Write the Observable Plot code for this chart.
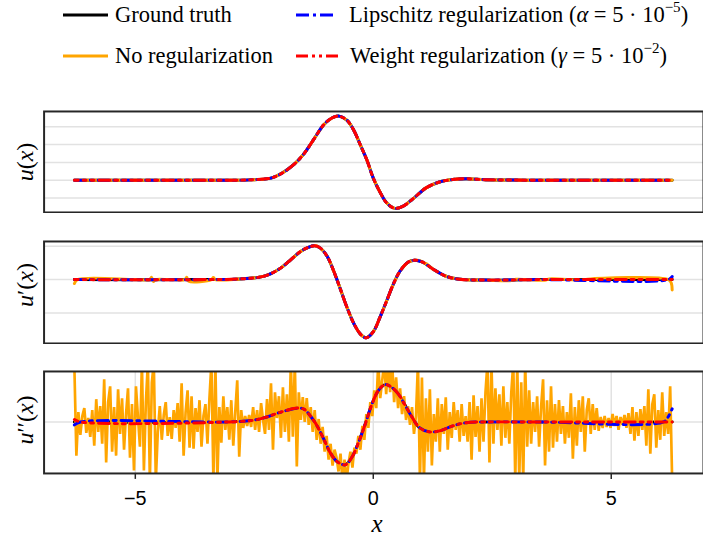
<!DOCTYPE html>
<html><head><meta charset="utf-8">
<script src="https://cdn.jsdelivr.net/npm/d3@7"></script>
<script src="https://cdn.jsdelivr.net/npm/@observablehq/plot@0.6"></script>
<style>
html,body{margin:0;padding:0;background:#fff;overflow:hidden}
#root{position:relative;width:703px;height:541px;overflow:hidden;background:#fff}
.panel{position:absolute;left:0}
.legtxt{position:absolute;font-family:"Liberation Serif",serif;font-size:22.5px;line-height:24px;color:#000;white-space:nowrap}
.sw{position:absolute}
.ylab{position:absolute;font-family:"Liberation Serif",serif;font-size:24px;line-height:24px;white-space:nowrap;transform:translate(-50%,-50%) rotate(-90deg)}
.xlab{position:absolute;font-family:"Liberation Serif",serif;font-size:25px;line-height:24px;transform:translate(-50%,-50%)}
</style></head><body><div id="root"></div>
<script>
// ---------- data ----------
const seriesNames = ["Ground truth","No regularization","Lipschitz regularization","Weight regularization"];
const seriesColors = ["#000000","#ffa500","#0000ff","#ff0000"];
const xTicks = [-5, 0, 5];

// u(x)
const uX     = [-6.28,-3.5,-2.6,-2.15,-1.94,-1.66,-1.45,-1.24,-1.04,-0.86,-0.72,-0.55,-0.41,-0.27,-0.135,0.0,0.14,0.28,0.45,0.63,0.84,1.11,1.39,1.67,1.95,2.36,3.5,6.28];
const uTruth = [0,0,0.02,0.12,0.36,0.9,1.51,2.34,3.12,3.51,3.6,3.36,2.81,1.97,1.14,0.12,-0.66,-1.27,-1.58,-1.45,-1.03,-0.43,-0.1,0.04,0.08,0.03,0,0];
const uNoReg = [0,0,0.02,0.12,0.36,0.9,1.51,2.34,3.12,3.51,3.6,3.36,2.81,1.97,1.14,0.12,-0.66,-1.27,-1.58,-1.45,-1.03,-0.43,-0.1,0.04,0.08,0.03,0,0];
const uLip   = [0,0,0.02,0.12,0.36,0.9,1.51,2.34,3.12,3.51,3.6,3.36,2.81,1.97,1.14,0.12,-0.66,-1.27,-1.58,-1.45,-1.03,-0.43,-0.1,0.04,0.08,0.03,0,0];
const uWeight= [0,0,0.02,0.12,0.36,0.9,1.51,2.34,3.12,3.51,3.6,3.36,2.81,1.97,1.14,0.12,-0.66,-1.27,-1.58,-1.45,-1.03,-0.43,-0.1,0.04,0.08,0.03,0,0];
const uGrid  = [-1,0,1,2,3];

// u'(x)
const dX      = [-6.28,-3.5,-2.8,-2.36,-2.15,-1.94,-1.73,-1.52,-1.35,-1.23,-1.11,-0.97,-0.83,-0.69,-0.55,-0.41,-0.27,-0.15,0.0,0.14,0.28,0.42,0.56,0.73,0.87,1.04,1.25,1.53,1.81,2.36,3.5,6.2,6.28];
const dTruth  = [0,0,0.02,0.08,0.18,0.35,0.6,0.85,0.97,1.01,0.94,0.70,0.25,-0.29,-0.84,-1.31,-1.63,-1.74,-1.56,-1.13,-0.64,-0.14,0.25,0.52,0.58,0.52,0.32,0.1,0.01,-0.015,0,0,0];
const dLip    = [0,0,0.02,0.08,0.18,0.35,0.6,0.85,0.97,1.01,0.94,0.70,0.25,-0.29,-0.84,-1.31,-1.63,-1.74,-1.56,-1.13,-0.64,-0.14,0.25,0.52,0.58,0.52,0.32,0.1,0.01,-0.015,0,0,0.09];
const dWeight = [0,0,0.02,0.08,0.18,0.35,0.6,0.85,0.97,1.01,0.94,0.70,0.25,-0.29,-0.84,-1.31,-1.63,-1.74,-1.56,-1.13,-0.64,-0.14,0.25,0.52,0.58,0.52,0.32,0.1,0.01,-0.015,0,0,0];
const dNoRegX = [-6.28,-6.22,-5.0,-4.7,-4.66,-4.62,-4.58,-3.96,-3.92,-3.88,-3.4,-3.36,-3.32,-2.8,-2.36,-2.15,-1.94,-1.73,-1.52,-1.35,-1.23,-1.11,-0.97,-0.83,-0.69,-0.55,-0.41,-0.27,-0.15,0.0,0.14,0.28,0.42,0.56,0.73,0.87,0.97,1.04,1.12,1.25,1.53,1.81,2.36,2.9,3.0,3.6,3.7,4.4,4.5,6.2,6.26,6.28];
const dNoReg  = [-0.12,0,0,0.0,0.07,-0.06,0,0,0.07,-0.05,0,0.06,0,0.02,0.08,0.18,0.35,0.6,0.85,0.97,1.02,0.94,0.70,0.25,-0.29,-0.84,-1.31,-1.63,-1.74,-1.56,-1.13,-0.64,-0.14,0.25,0.52,0.58,0.57,0.52,0.47,0.32,0.1,0.01,-0.015,-0.03,0.01,-0.02,0.02,-0.02,0.01,0,-0.1,-0.31];
const dGrid   = [-1,0,1];

// u''(x)
const ddX      = [-6.28,-6.15,-3.05,-2.49,-2.22,-1.94,-1.59,-1.45,-1.31,-1.18,-1.04,-0.9,-0.76,-0.59,-0.45,-0.31,-0.17,-0.03,0.11,0.25,0.38,0.52,0.66,0.8,0.97,1.18,1.39,1.67,1.95,2.36,3.5,6.1,6.2,6.28];
const ddTruth  = [0,0,0,0.2,0.53,1.0,1.4,1.27,0.53,-0.4,-1.73,-3.13,-4.0,-4.33,-3.57,-2.07,-0.23,1.77,3.2,3.77,3.53,2.87,1.77,0.6,-0.57,-1.0,-0.9,-0.4,-0.07,0,0,0,0,0];
const ddLip    = [-0.3,0,0,0.2,0.53,1.0,1.4,1.27,0.53,-0.4,-1.73,-3.13,-4.0,-4.33,-3.57,-2.07,-0.23,1.77,3.2,3.77,3.53,2.87,1.77,0.6,-0.57,-1.0,-0.9,-0.4,-0.07,0,0,0,0.55,1.33];
const ddWeight = [0.25,0,0,0.2,0.53,1.0,1.4,1.27,0.53,-0.4,-1.73,-3.13,-4.0,-4.33,-3.57,-2.07,-0.23,1.77,3.2,3.77,3.53,2.87,1.77,0.6,-0.57,-1.0,-0.9,-0.4,-0.07,0,0,0,0,0];
// no regularization: noisy second derivative, read on a regular grid from -2π to 2π
const ddNoReg = [
 5.5,-3.4,1.0,-1.3,0.6,1.4,-1.1,0.4,-1.5,1.2,
 -2.4,2.3,-1.0,1.6,-2.2,4.3,-4.1,2.0,3.6,-3.0,
 1.5,-3.4,3.3,-1.2,2.4,-2.8,0.8,3.4,-3.6,1.8,
 -4.9,3.6,0.5,-2.5,6.0,-4.9,2.0,6.0,-6.0,4.0,
 6.0,-6.0,-1.0,1.6,-1.8,0.7,2.0,-1.4,0.5,-1.7,
 1.2,-0.6,1.9,-2.0,3.9,-3.4,1.0,3.2,-2.6,2.6,
 -2.7,1.4,-1.0,2.2,-2.5,0.6,1.8,-2.2,2.4,6.0,
 -6.0,6.0,-6.0,1.5,-2.1,2.6,-0.8,1.5,-1.8,2.2,
 -2.4,1.0,4.2,-3.5,1.2,-0.6,0.6,-0.4,0.7,-0.5,
 1.5,-0.8,1.2,-1.0,1.9,0.2,-1.2,2.3,-0.8,3.9,
 -2.8,3.0,0.4,2.6,-1.6,3.5,-1.0,2.8,-2.0,6.0,
 -1.5,6.0,-4.5,3.0,0.2,2.5,0.0,2.4,-0.3,1.5,
 -1.0,1.2,-1.8,0.3,-2.2,-0.5,-3.0,-1.4,-3.8,-2.2,
 -4.4,-2.8,-3.6,-5.0,-3.2,-6.0,-3.8,-6.0,-4.2,-3.0,
 -4.6,-2.6,-3.2,-1.4,-2.8,-0.4,-1.8,0.8,-0.6,2.0,
 0.6,3.2,1.4,6.0,2.4,4.2,6.0,2.8,6.0,3.0,
 6.0,2.0,4.5,1.4,3.4,0.8,2.6,0.2,1.6,-0.3,
 1.5,-1.2,0.6,6.0,-6.0,4.5,-6.0,2.4,-3.0,3.3,
 -4.4,0.8,-2.0,2.4,-3.0,1.8,-1.2,2.5,-2.8,1.0,
 -1.6,2.0,-0.8,1.2,-2.0,1.8,-1.4,0.6,-2.0,2.0,
 -3.8,2.7,-1.5,1.6,-3.0,2.4,-2.0,3.0,6.0,-4.1,
 6.0,-2.2,3.4,-0.8,2.8,-2.4,3.6,-1.6,2.0,-2.2,
 3.0,6.0,-6.0,6.0,-6.0,4.0,-6.0,6.0,-2.5,3.2,
 -2.2,2.0,-1.0,2.6,-2.5,1.5,4.3,-4.4,2.2,-3.0,
 3.6,-2.6,1.8,-2.0,2.2,-1.2,1.6,-2.2,1.0,-1.6,
 2.9,-3.7,1.5,-2.4,2.2,-1.0,2.6,-3.0,1.2,2.4,
 -1.2,1.8,-0.8,1.4,-0.9,0.5,-0.6,0.6,-0.5,0.4,
 -0.6,0.8,-0.4,0.6,-0.8,0.5,-0.3,0.7,-0.6,0.9,
 -1.2,1.5,-1.9,1.0,-1.4,1.3,-0.8,1.6,-2.4,3.3,
 -3.2,1.8,2.8,-2.6,1.2,-1.8,3.0,-1.4,1.0,-1.2,
 3.6,-6.0
];
const ddNoRegX = d3.range(ddNoReg.length).map(i => -6.28 + i * 12.56 / (ddNoReg.length - 1));
const ddGrid = [0];

// ---------- layout / style ----------
const W = 710, xDomain = [-6.917, 6.938];
const blueDash = "11,5,3,5", redDash = "11,5,3,5,3,5";
const gridStyle = {stroke: "#e2e2e2", strokeOpacity: 1, strokeWidth: 1.5};
const frameStyle = {stroke: "#262626", strokeWidth: 2};

function rows(xs, ys){ return xs.map((x, i) => ({x, y: ys[i]})); }

function lines(xs, truth, noRegX, noReg, lip, weight, noRegCurve, noRegWidth){
  return [
    Plot.line(rows(xs, truth), {x:"x", y:"y", stroke: seriesColors[0], strokeWidth: 3, curve: "catmull-rom", clip: true}),
    Plot.line(rows(noRegX, noReg), {x:"x", y:"y", stroke: seriesColors[1], strokeWidth: noRegWidth, curve: noRegCurve, strokeLinejoin: "miter", clip: true}),
    Plot.line(rows(xs, lip), {x:"x", y:"y", stroke: seriesColors[2], strokeWidth: 3, strokeDasharray: blueDash, curve: "catmull-rom", clip: true}),
    Plot.line(rows(xs, weight), {x:"x", y:"y", stroke: seriesColors[3], strokeWidth: 3, strokeDasharray: redDash, strokeDashoffset: 7, curve: "catmull-rom", clip: true})
  ];
}

const root = document.getElementById("root");
function place(node, top){
  node.classList.add("panel");
  node.style.top = top + "px";
  root.appendChild(node);
}

const p1 = Plot.plot({
  width: W, height: 105, marginTop: 2, marginBottom: 1, marginLeft: 44, marginRight: 0,
  x: {domain: xDomain, axis: null},
  y: {domain: [-1.81, 3.86], axis: null},
  marks: [
    Plot.gridY(uGrid, gridStyle),
    ...lines(uX, uTruth, uX, uNoReg, uLip, uWeight, "catmull-rom", 3),
    Plot.frame(frameStyle)
  ]
});
place(p1, 109);

const p2 = Plot.plot({
  width: W, height: 106, marginTop: 2, marginBottom: 1, marginLeft: 44, marginRight: 0,
  x: {domain: xDomain, axis: null},
  y: {domain: [-1.91, 1.14], axis: null},
  marks: [
    Plot.gridY(dGrid, gridStyle),
    ...lines(dX, dTruth, dNoRegX, dNoReg, dLip, dWeight, "catmull-rom", 3),
    Plot.frame(frameStyle)
  ]
});
place(p2, 239);

const p3 = Plot.plot({
  width: W, height: 172, marginTop: 2, marginBottom: 67, marginLeft: 44, marginRight: 0,
  style: {fontFamily: "Liberation Sans, Arial, sans-serif", fontSize: "20px", color: "#000"},
  x: {domain: xDomain, label: null},
  y: {domain: [-5.2, 5.1], axis: null},
  marks: [
    Plot.gridX(xTicks, gridStyle),
    Plot.gridY(ddGrid, gridStyle),
    ...lines(ddX, ddTruth, ddNoRegX, ddNoReg, ddLip, ddWeight, "linear", 2.7),
    Plot.axisX(xTicks, {tickSize: 6, tickPadding: 12, strokeWidth: 1.5, stroke: "#262626", fill: "#000", label: null}),
    Plot.frame(frameStyle)
  ]
});
place(p3, 369);

// ---------- legend ----------
function swatch(left, cy, len, color, dash){
  const ns = "http://www.w3.org/2000/svg";
  const s = document.createElementNS(ns, "svg");
  s.setAttribute("width", len); s.setAttribute("height", 6);
  s.classList.add("sw");
  s.style.left = left + "px"; s.style.top = (cy - 3) + "px";
  const l = document.createElementNS(ns, "line");
  l.setAttribute("x1", 0); l.setAttribute("x2", len); l.setAttribute("y1", 3); l.setAttribute("y2", 3);
  l.setAttribute("stroke", color); l.setAttribute("stroke-width", 3);
  if (dash) l.setAttribute("stroke-dasharray", dash);
  s.appendChild(l); root.appendChild(s);
}
function legText(left, cy, html){
  const d = document.createElement("div");
  d.className = "legtxt"; d.style.left = left + "px"; d.style.top = (cy - 12) + "px";
  d.innerHTML = html; root.appendChild(d);
}
const supStyle = "font-size:15px;vertical-align:10px;line-height:0";
swatch(63, 15, 45, seriesColors[0]);
legText(115, 15, seriesNames[0]);
swatch(63, 56, 45, seriesColors[1]);
legText(115, 56, seriesNames[1]);
swatch(296, 15, 40, seriesColors[2], "13,4,3,4");
legText(349, 15, seriesNames[2] + " (<i>α</i> = 5 · 10<sup style='" + supStyle + "'>−5</sup>)");
swatch(296, 56, 45, seriesColors[3], "12,4,3,4,3,4");
legText(350, 56, seriesNames[3] + " (<i>γ</i> = 5 · 10<sup style='" + supStyle + "'>−2</sup>)");

// ---------- axis labels ----------
function yLab(cy, html){
  const d = document.createElement("div");
  d.className = "ylab"; d.style.left = "25px"; d.style.top = cy + "px";
  d.innerHTML = html; root.appendChild(d);
}
yLab(162, "<i>u</i>(<i>x</i>)");
yLab(285, "<i>u</i>′(<i>x</i>)");
yLab(420, "<i>u</i>′′(<i>x</i>)");
const xl = document.createElement("div");
xl.className = "xlab"; xl.style.left = "377px"; xl.style.top = "524px";
xl.innerHTML = "<i>x</i>"; root.appendChild(xl);
</script>
</body></html>
